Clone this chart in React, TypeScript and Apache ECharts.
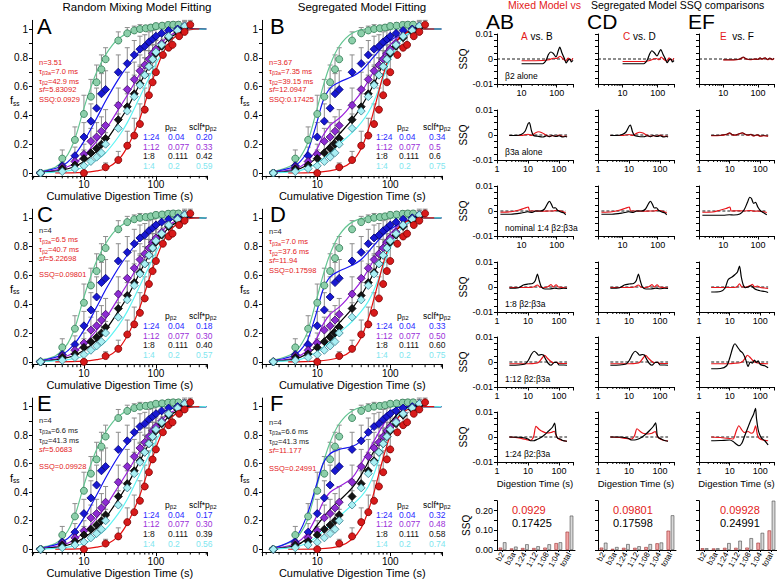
import { useEffect, useRef } from 'react';
import * as echarts from 'echarts';

const FONT = '"Liberation Sans", Arial, Helvetica, sans-serif';

type Obs = [number, number, number];
type Pt = [number, number];

// ---------- Measured steady-state fraction vs cumulative digestion time ----------
// [time (s), f_ss, SEM]
const OBS_B3A: Obs[] = [
  [2.5, 0.0, 0.01], [5, 0.10, 0.06], [7.5, 0.23, 0.09], [10, 0.41, 0.13], [12.5, 0.53, 0.12],
  [15, 0.63, 0.12], [17.5, 0.72, 0.1], [20, 0.79, 0.08], [30, 0.92, 0.06], [40, 0.97, 0.04],
  [50, 0.99, 0.03], [60, 1.0, 0.03], [72, 1.005, 0.02], [85, 1.01, 0.02], [100, 1.02, 0.02],
  [122, 1.023, 0.02], [148, 1.028, 0.02], [174, 1.03, 0.02], [206, 1.03, 0.02],
];
const OBS_1_24: Obs[] = [
  [2.5, 0.0, 0.01], [5, 0.05, 0.04], [7.5, 0.12, 0.06], [10, 0.25, 0.1], [12.5, 0.36, 0.12],
  [15, 0.45, 0.14], [17.5, 0.55, 0.14], [20, 0.58, 0.13], [30, 0.70, 0.12], [40, 0.76, 0.11],
  [50, 0.82, 0.1], [60, 0.86, 0.09], [70, 0.88, 0.08], [80, 0.91, 0.07], [90, 0.93, 0.06],
  [100, 0.95, 0.05], [120, 0.97, 0.04], [150, 0.99, 0.04], [200, 1.0, 0.03], [250, 1.02, 0.03],
];
const OBS_1_12: Obs[] = [
  [2.5, 0.0, 0.01], [5, 0.04, 0.03], [7.5, 0.08, 0.05], [10, 0.13, 0.07], [12.5, 0.22, 0.09],
  [15, 0.25, 0.1], [17.5, 0.29, 0.1], [20, 0.33, 0.11], [30, 0.47, 0.12], [40, 0.58, 0.12],
  [50, 0.65, 0.12], [60, 0.71, 0.11], [70, 0.75, 0.1], [80, 0.79, 0.1], [90, 0.83, 0.09],
  [100, 0.86, 0.08], [120, 0.9, 0.07], [150, 0.95, 0.05], [200, 0.99, 0.04], [250, 1.01, 0.03],
];
const OBS_1_8: Obs[] = [
  [2.5, 0.0, 0.01], [5, 0.03, 0.03], [7.5, 0.055, 0.04], [10, 0.10, 0.06], [12.5, 0.14, 0.08],
  [15, 0.17, 0.09], [17.5, 0.20, 0.1], [20, 0.24, 0.1], [30, 0.37, 0.12], [40, 0.46, 0.13],
  [50, 0.55, 0.13], [60, 0.62, 0.13], [70, 0.68, 0.12], [80, 0.74, 0.11], [90, 0.79, 0.1],
  [100, 0.83, 0.09], [120, 0.88, 0.08], [150, 0.94, 0.06], [200, 0.98, 0.05], [250, 1.01, 0.04],
];
const OBS_1_4: Obs[] = [
  [2.5, 0.0, 0.01], [5, 0.01, 0.02], [7.5, 0.03, 0.03], [10, 0.05, 0.04], [12.5, 0.08, 0.05],
  [15, 0.11, 0.06], [17.5, 0.14, 0.07], [20, 0.20, 0.08], [30, 0.31, 0.1], [40, 0.43, 0.12],
  [50, 0.53, 0.13], [60, 0.61, 0.13], [70, 0.68, 0.12], [80, 0.74, 0.11], [90, 0.79, 0.1],
  [100, 0.84, 0.09], [120, 0.89, 0.08], [150, 0.95, 0.06], [200, 0.99, 0.05], [250, 1.02, 0.04],
];
const OBS_B2: Obs[] = [
  [10, 0.0, 0.01], [20, 0.04, 0.03], [30, 0.09, 0.06], [40, 0.19, 0.1], [50, 0.26, 0.12],
  [60, 0.34, 0.14], [70, 0.44, 0.15], [80, 0.54, 0.15], [90, 0.63, 0.14], [100, 0.70, 0.13],
  [125, 0.82, 0.11], [150, 0.87, 0.09], [170, 0.89, 0.07], [210, 0.95, 0.05], [250, 0.98, 0.04],
  [300, 1.03, 0.03],
];

// ---------- Model fits ----------
// random mixing model (A, C, E)
const MIX_B3A: Pt[] = [[2.2, 0.01], [3, 0.02], [4, 0.04], [5, 0.08], [6, 0.13], [7, 0.2], [8, 0.28], [10, 0.45], [12, 0.57], [15, 0.7], [20, 0.82], [25, 0.89], [30, 0.93], [40, 0.97], [60, 0.99], [100, 1.0], [500, 1.0]];
const MIX_1_24: Pt[] = [[2.2, 0.005], [3, 0.015], [5, 0.05], [7, 0.11], [10, 0.22], [15, 0.38], [20, 0.5], [30, 0.65], [40, 0.74], [60, 0.85], [80, 0.91], [100, 0.94], [150, 0.98], [200, 0.995], [500, 1.0]];
const MIX_1_12: Pt[] = [[2.2, 0.003], [3, 0.01], [5, 0.03], [7, 0.06], [10, 0.12], [15, 0.22], [20, 0.3], [30, 0.44], [40, 0.54], [60, 0.69], [80, 0.79], [100, 0.86], [150, 0.95], [200, 0.98], [300, 1.0], [500, 1.0]];
const MIX_1_8: Pt[] = [[2.2, 0.002], [3, 0.006], [5, 0.02], [7, 0.04], [10, 0.08], [15, 0.15], [20, 0.22], [30, 0.35], [40, 0.45], [60, 0.62], [80, 0.74], [100, 0.82], [150, 0.93], [200, 0.97], [300, 1.0], [500, 1.0]];
const MIX_1_4: Pt[] = [[2.2, 0.0], [5, 0.01], [7, 0.02], [10, 0.04], [15, 0.09], [20, 0.14], [30, 0.25], [40, 0.35], [60, 0.53], [80, 0.66], [100, 0.76], [150, 0.9], [200, 0.96], [300, 0.995], [500, 1.0]];
const MIX_B2: Pt[] = [[4, 0.0], [10, 0.005], [15, 0.015], [20, 0.03], [30, 0.09], [40, 0.18], [50, 0.28], [60, 0.38], [70, 0.48], [80, 0.57], [100, 0.71], [120, 0.81], [150, 0.9], [200, 0.96], [250, 0.985], [300, 0.995], [400, 1.0]];

// segregated model (B, D)
const SEG_B3A: Pt[] = [[2.2, 0.01], [3, 0.02], [5, 0.07], [7, 0.18], [8, 0.27], [10, 0.45], [12, 0.6], [15, 0.75], [20, 0.88], [30, 0.97], [50, 1.0], [500, 1.0]];
const SEG_1_24: Pt[] = [[2.2, 0.005], [3, 0.015], [5, 0.05], [7, 0.13], [8, 0.2], [10, 0.36], [12, 0.5], [15, 0.59], [20, 0.63], [30, 0.67], [40, 0.71], [60, 0.81], [80, 0.88], [100, 0.92], [150, 0.97], [200, 0.99], [300, 1.0], [500, 1.0]];
const SEG_1_12: Pt[] = [[2.2, 0.003], [3, 0.01], [5, 0.03], [7, 0.07], [10, 0.17], [12, 0.26], [15, 0.33], [20, 0.38], [25, 0.43], [30, 0.48], [40, 0.56], [60, 0.71], [80, 0.82], [100, 0.89], [150, 0.97], [200, 0.99], [300, 1.0], [500, 1.0]];
const SEG_1_8: Pt[] = [[2.2, 0.002], [3, 0.006], [5, 0.02], [7, 0.05], [10, 0.11], [15, 0.2], [20, 0.27], [30, 0.37], [40, 0.46], [60, 0.62], [80, 0.76], [100, 0.86], [150, 0.96], [200, 0.99], [300, 1.0], [500, 1.0]];
const SEG_1_4: Pt[] = [[2.2, 0.001], [5, 0.01], [7, 0.03], [10, 0.07], [15, 0.14], [20, 0.2], [30, 0.28], [40, 0.35], [50, 0.42], [60, 0.5], [80, 0.66], [100, 0.79], [150, 0.94], [200, 0.98], [300, 1.0], [500, 1.0]];
const SEG_B2: Pt[] = [[4, 0.0], [10, 0.005], [20, 0.03], [30, 0.08], [40, 0.17], [50, 0.3], [60, 0.44], [70, 0.57], [80, 0.68], [100, 0.83], [120, 0.91], [150, 0.96], [200, 0.99], [300, 1.0], [400, 1.0]];

// segregated model with shared n / tau (F)
const SEGF_B3A: Pt[] = [[2.2, 0.01], [3, 0.02], [5, 0.07], [7, 0.18], [8, 0.27], [10, 0.45], [12, 0.6], [15, 0.75], [20, 0.88], [30, 0.97], [50, 1.0], [500, 1.0]];
const SEGF_1_24: Pt[] = [[2.2, 0.005], [3, 0.02], [5, 0.08], [7, 0.22], [10, 0.47], [12, 0.6], [15, 0.67], [20, 0.7], [30, 0.72], [40, 0.76], [60, 0.86], [80, 0.93], [100, 0.97], [150, 1.0], [500, 1.0]];
const SEGF_1_12: Pt[] = [[2.2, 0.003], [3, 0.01], [5, 0.04], [7, 0.1], [10, 0.24], [12, 0.33], [15, 0.4], [20, 0.44], [30, 0.5], [40, 0.6], [60, 0.76], [80, 0.87], [100, 0.94], [150, 0.99], [300, 1.0], [500, 1.0]];
const SEGF_1_8: Pt[] = [[2.2, 0.002], [3, 0.006], [5, 0.025], [7, 0.07], [10, 0.17], [15, 0.28], [20, 0.34], [30, 0.43], [40, 0.52], [60, 0.69], [80, 0.8], [100, 0.89], [150, 0.98], [200, 1.0], [500, 1.0]];
const SEGF_1_4: Pt[] = [[2.2, 0.001], [5, 0.015], [7, 0.04], [10, 0.09], [15, 0.17], [20, 0.23], [30, 0.31], [40, 0.37], [50, 0.44], [60, 0.53], [80, 0.72], [100, 0.85], [150, 0.97], [200, 0.995], [500, 1.0]];
const SEGF_B2: Pt[] = [[4, 0.0], [10, 0.003], [20, 0.02], [30, 0.07], [40, 0.15], [50, 0.27], [60, 0.4], [70, 0.53], [80, 0.64], [100, 0.8], [120, 0.9], [150, 0.96], [200, 0.99], [300, 1.0], [400, 1.0]];

// ---------- Legend tables ----------
const MIX_LABELS = ['1:24', '1:12', '1:8', '1:4'];
const P_B2 = ['0.04', '0.077', '0.111', '0.2'];
const SCLF_A = ['0.20', '0.33', '0.42', '0.59'];
const SCLF_B = ['0.34', '0.5', '0.6', '0.75'];
const SCLF_C = ['0.18', '0.30', '0.40', '0.57'];
const SCLF_D = ['0.33', '0.50', '0.60', '0.75'];
const SCLF_E = ['0.17', '0.30', '0.39', '0.56'];
const SCLF_F = ['0.32', '0.48', '0.58', '0.74'];

// fit parameters: [rich text, colour]
const INFO_A: [string, string][] = [['{t|n=3.51}', 'r'], ['{t|τ}{s|β3a}{t|=7.0 ms}', 'r'], ['{t|τ}{s|β2}{t|=42.9 ms}', 'r'], ['{i|sf}{t|=5.83092}', 'r'], ['{t|SSQ:0.0929}', 'r']];
const INFO_B: [string, string][] = [['{t|n=3.67}', 'r'], ['{t|τ}{s|β3a}{t|=7.35 ms}', 'r'], ['{t|τ}{s|β2}{t|=39.15 ms}', 'r'], ['{i|sf}{t|=12.0947}', 'r'], ['{t|SSQ:0.17425}', 'r']];
const INFO_C: [string, string][] = [['{t|n=4}', 'k'], ['{t|τ}{s|β3a}{t|=6.5 ms}', 'r'], ['{t|τ}{s|β2}{t|=40.7 ms}', 'r'], ['{i|sf}{t|=5.22698}', 'r'], ['{t|SSQ=0.09801}', 'r']];
const INFO_D: [string, string][] = [['{t|n=4}', 'k'], ['{t|τ}{s|β3a}{t|=7.0 ms}', 'r'], ['{t|τ}{s|β2}{t|=37.6 ms}', 'r'], ['{i|sf}{t|=11.94}', 'r'], ['{t|SSQ=0.17598}', 'r']];
const INFO_E: [string, string][] = [['{t|n=4}', 'k'], ['{t|τ}{s|β3a}{t|=6.6 ms}', 'k'], ['{t|τ}{s|β2}{t|=41.3 ms}', 'k'], ['{i|sf}{t|=5.0683}', 'r'], ['{t|SSQ=0.09928}', 'r']];
const INFO_F: [string, string][] = [['{t|n=4}', 'k'], ['{t|τ}{s|β3a}{t|=6.6 ms}', 'k'], ['{t|τ}{s|β2}{t|=41.3 ms}', 'k'], ['{i|sf}{t|=11.177}', 'r'], ['{t|SSQ=0.24991}', 'r']];

// ---------- Residual SSQ traces (red: mixed model, black: segregated model) ----------
const AB_R1_MIX: Pt[] = [[10, -0.0007], [40, -0.0006], [60, -0.0003], [80, 0.0003], [100, 0.0002], [125, 0.0011], [150, 0.0001], [180, -0.0008], [210, 0.0004], [250, -0.0006], [290, 0.0003]];
const AB_R1_SEG: Pt[] = [[10, -0.0019], [40, -0.0019], [50, -0.0005], [58, 0.0018], [68, 0.0028], [80, 0.0022], [95, 0.0008], [110, 0.0032], [122, 0.0048], [140, 0.0025], [165, 0.0002], [185, -0.0016], [210, -0.0005], [240, 0.0], [260, -0.0012], [290, -0.0005]];
const AB_R2_MIX: Pt[] = [[2.5, -0.0002], [6, -0.0002], [10, 0.0003], [13, -0.0002], [17, 0.0008], [22, 0.0013], [28, 0.0009], [35, 0.0002], [45, -0.0005], [60, -0.0003], [80, -0.0005], [100, 0.0], [130, -0.0006], [160, -0.0004], [180, -0.0006]];
const AB_R2_SEG: Pt[] = [[2.5, -0.0002], [4, -0.0002], [6, 0.0002], [8, 0.0015], [10, 0.0045], [11, 0.005], [13, 0.0015], [15, -0.0002], [20, -0.0005], [30, -0.0008], [40, -0.0003], [50, -0.0007], [60, -0.0002], [80, -0.0006], [100, -0.0003], [130, -0.0008], [160, -0.0006], [180, -0.0008]];
const AB_R3_MIX: Pt[] = [[2.5, -0.0005], [5, -0.0003], [8, 0.0003], [12, 0.0011], [15.5, 0.0016], [17, 0.0], [25, 0.0], [40, -0.0001], [60, 0.0], [80, 0.0], [100, 0.0003], [130, 0.0], [160, -0.0004], [180, -0.0008]];
const AB_R3_SEG: Pt[] = [[2.5, -0.0013], [5, -0.0013], [10, -0.0008], [15, -0.0003], [20, -0.0006], [25, 0.0], [35, 0.0], [45, 0.0008], [55, 0.003], [62, 0.0039], [70, 0.0028], [80, 0.0012], [92, 0.0013], [105, 0.0003], [130, -0.0004], [160, -0.0008], [180, -0.0015]];
const AB_R4_MIX: Pt[] = [[2.5, -0.0002], [8, -0.0002], [15, 0.0], [20, 0.0008], [24, 0.0], [30, -0.0003], [45, 0.0002], [55, 0.001], [65, 0.0], [80, 0.0009], [95, 0.0], [130, -0.0002], [180, -0.0004]];
const AB_R4_SEG: Pt[] = [[2.5, -0.0005], [5, -0.0003], [7, 0.0008], [10, 0.0012], [14, 0.0014], [17, 0.0025], [20, 0.0052], [23, 0.0025], [27, 0.0], [35, -0.0008], [50, -0.0008], [70, -0.0005], [100, -0.0007], [140, -0.0005], [180, -0.0006]];
const AB_R5_MIX: Pt[] = [[2.5, -0.0007], [10, -0.0007], [18, -0.0005], [22, -0.0001], [28, 0.0015], [34, 0.0027], [42, 0.0015], [50, 0.0006], [65, -0.0003], [80, -0.0001], [100, -0.0006], [180, -0.0006]];
const AB_R5_SEG: Pt[] = [[2.5, -0.0013], [5, -0.0012], [8, -0.0008], [10, 0.0005], [13, 0.0032], [16, 0.0043], [19, 0.0035], [22, 0.0027], [27, 0.003], [31, 0.0028], [38, 0.0008], [45, -0.0006], [55, -0.0013], [70, -0.0002], [85, -0.0002], [100, -0.0012], [140, -0.0012], [180, -0.0013]];
const AB_R6_MIX: Pt[] = [[2.5, 0.0], [5, -0.0004], [8, -0.0009], [12, -0.0013], [15, 0.0], [18, 0.0043], [23, 0.003], [28, 0.0023], [40, 0.0016], [55, 0.0018], [70, 0.0023], [80, 0.0006], [90, -0.0004], [120, -0.0013], [180, -0.0017]];
const AB_R6_SEG: Pt[] = [[2.5, 0.0], [5, -0.0001], [8, -0.0004], [10, -0.0008], [12, -0.0015], [15, -0.0015], [20, -0.0009], [25, -0.0003], [35, 0.001], [45, 0.0023], [60, 0.0038], [72, 0.0056], [80, 0.001], [90, -0.0005], [110, -0.0008], [130, -0.0014], [180, -0.0017]];

const CD_R1_MIX: Pt[] = [[10, -0.001], [40, -0.001], [60, -0.0006], [75, 0.0], [90, 0.0002], [110, -0.0003], [125, 0.0008], [150, -0.0002], [180, -0.0008], [210, 0.0005], [250, -0.0006], [290, 0.0003]];
const CD_R1_SEG: Pt[] = [[10, -0.0019], [40, -0.0019], [50, -0.0005], [58, 0.0018], [68, 0.0033], [80, 0.0025], [95, 0.0012], [110, 0.0028], [122, 0.0038], [140, 0.002], [165, 0.0], [185, -0.0015], [210, -0.0004], [240, 0.0], [260, -0.0012], [290, -0.0006]];
const CD_R2_MIX: Pt[] = [[2.5, -0.0002], [6, -0.0002], [10, 0.0002], [13, -0.0002], [17, 0.0006], [22, 0.0011], [28, 0.0008], [35, 0.0001], [45, -0.0005], [60, -0.0003], [80, -0.0005], [100, 0.0], [130, -0.0006], [160, -0.0004], [180, -0.0006]];
const CD_R2_SEG: Pt[] = [[2.5, -0.0002], [4, -0.0002], [6, 0.0002], [8, 0.0012], [10, 0.0035], [11, 0.004], [13, 0.0012], [15, -0.0002], [20, -0.0006], [30, -0.0007], [40, -0.0003], [50, -0.0007], [60, -0.0002], [80, -0.0006], [100, -0.0003], [130, -0.0008], [160, -0.0006], [180, -0.0008]];
const CD_R6_MIX: Pt[] = [[2.5, 0.0], [5, -0.0002], [8, -0.0006], [12, -0.0008], [15, 0.0005], [18, 0.0033], [23, 0.0022], [28, 0.0015], [40, 0.0012], [55, 0.0015], [70, 0.0022], [80, 0.0004], [90, -0.0004], [120, -0.0012], [180, -0.0016]];
const CD_R6_SEG: Pt[] = [[2.5, 0.0], [5, 0.0], [8, -0.0003], [10, -0.0007], [12, -0.0012], [15, -0.0012], [20, -0.0008], [25, -0.0002], [35, 0.0012], [45, 0.0025], [60, 0.0042], [72, 0.0057], [80, 0.001], [90, -0.0003], [110, -0.0008], [130, -0.0013], [180, -0.0017]];

const EF_R1_MIX: Pt[] = [[10, -0.0004], [20, -0.0004], [30, -0.0001], [38, 0.0006], [45, 0.0], [60, -0.0003], [80, -0.0001], [100, -0.0002], [115, 0.0004], [130, -0.0001], [160, 0.0004], [190, -0.0003], [220, 0.0003], [260, -0.0003], [290, 0.0002]];
const EF_R1_SEG: Pt[] = [[10, -0.0003], [20, -0.0003], [30, 0.0], [38, 0.0008], [45, 0.0001], [60, -0.0002], [80, 0.0], [100, -0.0001], [115, 0.0005], [130, 0.0], [160, 0.0005], [190, -0.0002], [220, 0.0004], [260, -0.0002], [290, 0.0003]];
const EF_R2_MIX: Pt[] = [[2.5, -0.0003], [5, -0.0002], [8, 0.0002], [10, 0.0007], [12, 0.0001], [15, -0.0001], [20, 0.0004], [26, 0.0008], [32, 0.0002], [40, -0.0001], [50, 0.0002], [60, -0.0004], [80, 0.0], [100, -0.0005], [130, -0.0003], [180, -0.0005]];
const EF_R2_SEG: Pt[] = [[2.5, -0.0002], [5, -0.0001], [8, 0.0003], [10, 0.0009], [12, 0.0002], [15, 0.0], [20, 0.0005], [26, 0.0009], [32, 0.0003], [40, 0.0], [50, 0.0003], [60, -0.0003], [80, 0.0001], [100, -0.0004], [130, -0.0002], [180, -0.0004]];
const EF_R3_MIX: Pt[] = [[2.5, -0.0005], [5, -0.0004], [8, 0.0003], [12, 0.001], [15.5, 0.0016], [17, 0.0], [25, 0.0001], [40, 0.0], [60, 0.0002], [80, -0.0001], [100, 0.0], [130, -0.0002], [160, -0.0004], [180, -0.0006]];
const EF_R3_SEG: Pt[] = [[2.5, -0.0017], [5, -0.0017], [10, -0.0017], [15, -0.0015], [20, -0.0016], [30, -0.0012], [40, 0.0005], [50, 0.0035], [58, 0.0055], [65, 0.005], [75, 0.003], [85, 0.0035], [100, 0.0015], [120, 0.0], [150, -0.0008], [180, -0.0015]];
const EF_R4_MIX: Pt[] = [[2.5, -0.0002], [10, -0.0002], [17, 0.0], [21, 0.0013], [25, 0.0], [35, 0.0], [48, 0.0006], [55, 0.0011], [65, 0.0], [80, 0.0004], [100, -0.0002], [140, -0.0004], [180, -0.0006]];
const EF_R4_SEG: Pt[] = [[2.5, -0.002], [5, -0.0018], [7, -0.0005], [9, 0.003], [12, 0.004], [15, 0.005], [18, 0.006], [21, 0.0084], [24, 0.004], [28, 0.0007], [33, -0.0003], [40, 0.0], [50, 0.0005], [65, -0.0007], [80, -0.0012], [100, -0.0015], [140, -0.0018], [180, -0.0022]];
const EF_R5_MIX: Pt[] = [[2.5, -0.0007], [10, -0.0007], [15, -0.0005], [20, -0.0004], [25, 0.0], [32, 0.0015], [38, 0.0027], [45, 0.002], [55, 0.0008], [70, -0.0002], [100, -0.0006], [180, -0.0007]];
const EF_R5_SEG: Pt[] = [[2.5, -0.0027], [5, -0.0026], [8, -0.0015], [10, 0.0015], [13, 0.0062], [15, 0.0073], [18, 0.006], [22, 0.0045], [27, 0.0035], [33, 0.0012], [40, -0.0018], [47, 0.0], [55, -0.0005], [65, 0.0008], [75, -0.0002], [85, 0.0005], [100, -0.001], [140, -0.0015], [180, -0.0023]];
const EF_R6_MIX: Pt[] = [[2.5, 0.0], [5, -0.0002], [10, -0.0006], [13, -0.0008], [16, 0.002], [20, 0.0045], [25, 0.0028], [30, 0.0018], [40, 0.0022], [50, 0.0015], [60, 0.002], [70, 0.0045], [80, 0.001], [90, -0.0004], [120, -0.0012], [180, -0.0015]];
const EF_R6_SEG: Pt[] = [[2.5, -0.0015], [5, -0.0014], [10, -0.0012], [13, -0.0018], [17, -0.003], [20, -0.0035], [25, -0.0025], [30, 0.0], [40, 0.004], [50, 0.007], [60, 0.009], [70, 0.0115], [75, 0.0075], [85, 0.003], [95, 0.001], [110, -0.0005], [140, -0.0015], [180, -0.0032]];

// ---------- SSQ totals per data set ----------
const BAR_CATS = ['b2', 'b3a', '1:24', '1:12', '1:08', '1:04', 'total'];
const SSQ_MIX_AB = [0.012, 0.008, 0.010, 0.010, 0.012, 0.035, 0.0929];
const SSQ_SEG_AB = [0.039, 0.017, 0.029, 0.019, 0.029, 0.039, 0.17425];
const SSQ_MIX_CD = [0.012, 0.006, 0.011, 0.011, 0.015, 0.034, 0.09801];
const SSQ_SEG_CD = [0.037, 0.015, 0.030, 0.019, 0.030, 0.038, 0.17598];
const SSQ_MIX_EF = [0.009, 0.008, 0.011, 0.011, 0.012, 0.037, 0.09928];
const SSQ_SEG_EF = [0.009, 0.009, 0.035, 0.047, 0.060, 0.087, 0.24991];

// axis ticks
const LOG_MINOR_TICKS = [2, 3, 4, 5, 6, 7, 8, 9, 20, 30, 40, 50, 60, 70, 80, 90, 200, 300, 400, 500];
const FSS_LABELS = [0, 0.2, 0.4, 0.6, 0.8, 1];
const FSS_TICKS = [0, 0.1, 0.2, 0.3, 0.4, 0.5, 0.6, 0.7, 0.8, 0.9, 1];

// ---------- styling ----------
const RED = '#e31a1a';
const SERIES_STYLE = [
  { line: '#63c592', fill: '#8ccfaa', edge: '#2e7a52', symbol: 'circle', size: 7 },
  { line: '#1414f0', fill: '#1818d2', edge: '#000070', symbol: 'diamond', size: 8 },
  { line: '#9a1fdc', fill: '#8d2cd2', edge: '#3d0a66', symbol: 'diamond', size: 8 },
  { line: '#000000', fill: '#141414', edge: '#000000', symbol: 'diamond', size: 8 },
  { line: '#5ff4f4', fill: '#a9eff3', edge: '#3a7d8e', symbol: 'diamond', size: 8 },
  { line: '#e41010', fill: '#d81a1a', edge: '#7a0000', symbol: 'circle', size: 7 },
];
const LEG_COLORS = ['#2a2aff', '#9b30d9', '#111111', '#7fe6ef'];
const OBS_ALL = [OBS_B3A, OBS_1_24, OBS_1_12, OBS_1_8, OBS_1_4, OBS_B2];
const FITS_MIX = [MIX_B3A, MIX_1_24, MIX_1_12, MIX_1_8, MIX_1_4, MIX_B2];
const FITS_SEG = [SEG_B3A, SEG_1_24, SEG_1_12, SEG_1_8, SEG_1_4, SEG_B2];
const FITS_SEGF = [SEGF_B3A, SEGF_1_24, SEGF_1_12, SEGF_1_8, SEGF_1_4, SEGF_B2];

const ROW_Y0 = [173, 361.8, 550.7];
const LEFT_COL = { left: 32, decade: 72, xmin: 1.9, leg: [111, 136, 164, 133, 157], letterDx: 5 };
const RIGHT_COL = { left: 262, decade: 73, xmin: 1.75, leg: [114, 137, 167, 135, 161], letterDx: 8 };
const X_MAX = 520;

const MAIN_PANELS = [
  { letter: 'A', col: LEFT_COL, row: 0, fits: FITS_MIX, info: INFO_A, dy: [33, 42, 52, 60, 70], sclf: SCLF_A },
  { letter: 'B', col: RIGHT_COL, row: 0, fits: FITS_SEG, info: INFO_B, dy: [33, 42, 52, 60, 70], sclf: SCLF_B },
  { letter: 'C', col: LEFT_COL, row: 1, fits: FITS_MIX, info: INFO_C, dy: [13, 22, 32, 41, 57], sclf: SCLF_C },
  { letter: 'D', col: RIGHT_COL, row: 1, fits: FITS_SEG, info: INFO_D, dy: [14, 24, 34, 43, 53], sclf: SCLF_D },
  { letter: 'E', col: LEFT_COL, row: 2, fits: FITS_MIX, info: INFO_E, dy: [14, 24, 34, 43, 60], sclf: SCLF_E },
  { letter: 'F', col: RIGHT_COL, row: 2, fits: FITS_SEGF, info: INFO_F, dy: [16, 25, 35, 44, 62], sclf: SCLF_F },
];

const RES_ROW_TOP = [34, 110, 186, 262, 337, 412];
const RES_XRANGE: [number, number][] = [[2, 290], [1, 280], [2, 290], [1, 280], [1, 280], [1, 280]];
const RES_NOTES = ['β2 alone', 'β3a alone', 'nominal 1:4 β2:β3a', '1:8 β2:β3a', '1:12 β2:β3a', '1:24 β2:β3a'];
const RES_COLS = [
  { left: 497, tag: 'AB', first: 'A', second: ' vs. B', vsX: 521, ssqMix: SSQ_MIX_AB, ssqSeg: SSQ_SEG_AB, totalMix: '0.0929', totalSeg: '0.17425', totX: 512,
    rows: [[AB_R1_MIX, AB_R1_SEG], [AB_R2_MIX, AB_R2_SEG], [AB_R3_MIX, AB_R3_SEG], [AB_R4_MIX, AB_R4_SEG], [AB_R5_MIX, AB_R5_SEG], [AB_R6_MIX, AB_R6_SEG]] },
  { left: 598, tag: 'CD', first: 'C', second: ' vs. D', vsX: 623, ssqMix: SSQ_MIX_CD, ssqSeg: SSQ_SEG_CD, totalMix: '0.09801', totalSeg: '0.17598', totX: 613,
    rows: [[CD_R1_MIX, CD_R1_SEG], [CD_R2_MIX, CD_R2_SEG], [AB_R3_MIX, AB_R3_SEG], [AB_R4_MIX, AB_R4_SEG], [AB_R5_MIX, AB_R5_SEG], [CD_R6_MIX, CD_R6_SEG]] },
  { left: 699, tag: 'EF', first: 'E', second: '  vs. F', vsX: 720, ssqMix: SSQ_MIX_EF, ssqSeg: SSQ_SEG_EF, totalMix: '0.09928', totalSeg: '0.24991', totX: 720,
    rows: [[EF_R1_MIX, EF_R1_SEG], [EF_R2_MIX, EF_R2_SEG], [EF_R3_MIX, EF_R3_SEG], [EF_R4_MIX, EF_R4_SEG], [EF_R5_MIX, EF_R5_SEG], [EF_R6_MIX, EF_R6_SEG]] },
];
const RES_WIDTH = 76;

// ---------- helpers ----------
const near = (a: number, b: number) => Math.abs(a - b) < 1e-9;
function decadeLabel(v: number) {
  const l = Math.log10(v);
  return Math.abs(l - Math.round(l)) < 1e-6 ? String(Math.round(v)) : '';
}

function textEl(x: number, y: number, text: string, fontSize: number, fill: string, align = 'left', extra: any = {}) {
  return {
    type: 'text', x, y, silent: true, z: 50,
    style: {
      text, fill, fontSize, fontFamily: FONT,
      align, verticalAlign: 'middle', textAlign: align, textVerticalAlign: 'middle',
      ...extra,
    },
  };
}

function richStyles(fill: string, size: number) {
  return {
    t: { fontSize: size, lineHeight: size + 1, fill, fontFamily: FONT },
    i: { fontSize: size, lineHeight: size + 1, fill, fontFamily: FONT, fontStyle: 'italic' },
    s: { fontSize: size * 0.72, lineHeight: size * 0.72, fill, fontFamily: FONT, verticalAlign: 'bottom' },
  };
}

function richEl(x: number, y: number, text: string, size: number, fill: string, align = 'left') {
  return textEl(x, y, text, size, fill, align, { rich: richStyles(fill, size) });
}

function minorTickSeries(xi: number, xmin: number, xmax: number, yBase: number, len: number) {
  const ticks = LOG_MINOR_TICKS.filter((v) => v > xmin * 1.0001 && v < xmax * 0.9999);
  return {
    type: 'custom', xAxisIndex: xi, yAxisIndex: xi, silent: true, z: 5, clip: false,
    data: ticks.map((v) => [v, yBase]),
    renderItem: (_p: any, api: any) => {
      const p = api.coord([api.value(0), api.value(1)]);
      return { type: 'line', shape: { x1: p[0], y1: p[1], x2: p[0], y2: p[1] + len }, style: { stroke: '#000', lineWidth: 1 } };
    },
  };
}

function buildOption() {
  const grid: any[] = [];
  const xAxis: any[] = [];
  const yAxis: any[] = [];
  const series: any[] = [];
  const graphic: any[] = [];
  const axisLine = { show: true, onZero: false, lineStyle: { color: '#000', width: 1 } };
  const labelBase = { color: '#000', fontFamily: FONT };

  // ---- fitting panels ----
  MAIN_PANELS.forEach((pnl) => {
    const gi = grid.length;
    const col = pnl.col;
    const y0 = ROW_Y0[pnl.row];
    const y1 = y0 - 144;
    const width = col.decade * Math.log10(X_MAX / col.xmin);
    grid.push({ left: col.left, top: y0 - 1.06 * 144, width, height: 1.08 * 144 });
    xAxis.push({
      type: 'log', logBase: 10, gridIndex: gi, min: col.xmin, max: X_MAX,
      axisLine, splitLine: { show: false },
      axisTick: { show: true, length: 4, lineStyle: { color: '#000' } },
      axisLabel: { ...labelBase, fontSize: 10, margin: 4, formatter: decadeLabel },
      name: 'Cumulative Digestion Time (s)', nameLocation: 'middle', nameGap: 13.5,
      nameTextStyle: { ...labelBase, fontSize: 11 },
    });
    yAxis.push({
      type: 'value', gridIndex: gi, min: -0.02, max: 1.06,
      axisLine, splitLine: { show: false },
      axisTick: { show: true, length: 3, customValues: FSS_TICKS, lineStyle: { color: '#000' } },
      axisLabel: {
        ...labelBase, fontSize: 10, margin: 4, customValues: FSS_LABELS,
        formatter: (v: number) => (near(v, 0) ? '0' : near(v, 1) ? '1' : v.toFixed(1)),
      },
    });
    // error bars
    const errData: number[][] = [];
    OBS_ALL.forEach((obs) => obs.forEach((o) => errData.push([o[0], o[1], o[2]])));
    series.push({
      type: 'custom', xAxisIndex: gi, yAxisIndex: gi, silent: true, z: 1,
      data: errData,
      renderItem: (_p: any, api: any) => {
        const t = api.value(0);
        const y = api.value(1);
        const e = api.value(2);
        const a = api.coord([t, y]);
        const b = api.coord([t, y + e]);
        return {
          type: 'group',
          children: [
            { type: 'line', shape: { x1: a[0], y1: a[1], x2: b[0], y2: b[1] }, style: { stroke: '#8c8c8c', lineWidth: 1 } },
            { type: 'line', shape: { x1: b[0] - 2.5, y1: b[1], x2: b[0] + 2.5, y2: b[1] }, style: { stroke: '#8c8c8c', lineWidth: 1 } },
          ],
        };
      },
    });
    pnl.fits.forEach((fit, k) => {
      series.push({
        type: 'line', xAxisIndex: gi, yAxisIndex: gi, data: fit, smooth: 0.35, showSymbol: false, silent: true, z: 2,
        lineStyle: { color: SERIES_STYLE[k].line, width: 1.2 },
      });
    });
    OBS_ALL.forEach((obs, k) => {
      const st = SERIES_STYLE[k];
      series.push({
        type: 'scatter', xAxisIndex: gi, yAxisIndex: gi, silent: true, z: 3,
        data: obs.map((o) => [o[0], o[1]]),
        symbol: st.symbol, symbolSize: st.size,
        itemStyle: { color: st.fill, borderColor: st.edge, borderWidth: 0.8, opacity: 1 },
      });
    });
    series.push(minorTickSeries(gi, col.xmin, X_MAX, -0.02, 2.5));

    // panel letter, y label, fit parameters, legend table
    graphic.push(textEl(col.left + col.letterDx, y1 - 3, pnl.letter, 22, '#000'));
    graphic.push(textEl(col.left - 22, y0 - 73, '{f|f}{s|ss}', 11, '#000', 'left', {
      rich: { f: { fontSize: 11, lineHeight: 13, fontFamily: FONT, fill: '#000' }, s: { fontSize: 6.5, lineHeight: 6.5, verticalAlign: 'bottom', fontFamily: FONT, fill: '#000' } },
    }));
    pnl.info.forEach((ln, k) => {
      const fill = ln[1] === 'r' ? RED : '#222';
      graphic.push(richEl(col.left + 7, y1 + pnl.dy[k], ln[0], 7.5, fill));
    });
    const lg = col.leg;
    graphic.push(richEl(col.left + lg[3], y1 + 98, '{t|p}{s|β2}', 8.5, '#000'));
    graphic.push(richEl(col.left + lg[4], y1 + 98, '{t|sclf*p}{s|β2}', 8.5, '#000'));
    MIX_LABELS.forEach((lab, r) => {
      const yy = y1 + 108 + r * 9.7;
      graphic.push(textEl(col.left + lg[0], yy, lab, 8.5, LEG_COLORS[r]));
      graphic.push(textEl(col.left + lg[1], yy, P_B2[r], 8.5, LEG_COLORS[r]));
      graphic.push(textEl(col.left + lg[2], yy, pnl.sclf[r], 8.5, LEG_COLORS[r]));
    });
  });

  graphic.push(textEl(137, 6.5, 'Random Mixing Model Fitting', 11.5, '#000', 'center'));
  graphic.push(textEl(362, 6.5, 'Segregated Model Fitting', 11.5, '#000', 'center'));
  graphic.push(textEl(508, 5, 'Mixed Model vs', 10.5, RED));
  graphic.push(textEl(591, 5, 'Segregated Model SSQ comparisons', 10.5, '#000'));

  // ---- residual panels ----
  RES_COLS.forEach((rc, ci) => {
    graphic.push(textEl(rc.left - 11, 21, rc.tag, 21, '#000'));
    graphic.push(textEl(rc.vsX, 36, `{r|${rc.first}}{k|${rc.second}}`, 10, '#000', 'left', {
      rich: { r: { fontSize: 10, fill: RED, fontFamily: FONT }, k: { fontSize: 10, fill: '#000', fontFamily: FONT } },
    }));
    RES_ROW_TOP.forEach((top, ri) => {
      const gi = grid.length;
      const [xmin, xmax] = RES_XRANGE[ri];
      const last = ri === RES_ROW_TOP.length - 1;
      grid.push({ left: rc.left, top, width: RES_WIDTH, height: 50 });
      xAxis.push({
        type: 'log', logBase: 10, gridIndex: gi, min: xmin, max: xmax,
        axisLine, splitLine: { show: false },
        axisTick: { show: true, length: 3.5, lineStyle: { color: '#000' } },
        axisLabel: { ...labelBase, fontSize: 9, margin: 4, formatter: decadeLabel },
        name: last ? 'Digestion Time (s)' : '', nameLocation: 'middle', nameGap: 16,
        nameTextStyle: { ...labelBase, fontSize: 9.5 },
      });
      yAxis.push({
        type: 'value', gridIndex: gi, min: -0.01, max: 0.01, interval: 0.0025,
        axisLine, splitLine: { show: false },
        axisTick: { show: true, length: 3, lineStyle: { color: '#000' } },
        axisLabel: {
          show: ci === 0, ...labelBase, fontSize: 9, margin: 4,
          formatter: (v: number) => (near(v, 0.01) ? '0.01' : near(v, 0) ? '0' : near(v, -0.01) ? '-0.01' : ''),
        },
        name: ci === 0 ? 'SSQ' : '', nameLocation: 'middle', nameGap: 22, nameRotate: 90,
        nameTextStyle: { ...labelBase, fontSize: 10 },
      });
      const [mix, seg] = rc.rows[ri];
      const zx0 = ri === 0 ? xmin : mix[0][0];
      const zx1 = ri === 0 ? xmax : mix[mix.length - 1][0];
      series.push({
        type: 'line', xAxisIndex: gi, yAxisIndex: gi, data: [[zx0, 0], [zx1, 0]], showSymbol: false, silent: true, z: 1,
        lineStyle: { color: '#000', width: 0.9, type: [3, 2] },
      });
      series.push({
        type: 'line', xAxisIndex: gi, yAxisIndex: gi, data: mix, smooth: 0.25, showSymbol: false, silent: true, z: 2, clip: false,
        lineStyle: { color: '#e8141a', width: 1.2 },
      });
      series.push({
        type: 'line', xAxisIndex: gi, yAxisIndex: gi, data: seg, smooth: 0.25, showSymbol: false, silent: true, z: 3, clip: false,
        lineStyle: { color: ci === 2 && ri < 2 ? '#6a0a0a' : '#000', width: 1.2 },
      });
      series.push(minorTickSeries(gi, xmin, xmax, -0.01, 2));
      if (ci === 0) graphic.push(textEl(505, top + 42, RES_NOTES[ri], 8.5, '#000'));
    });

    // ---- SSQ bar summary ----
    const gi = grid.length;
    grid.push({ left: rc.left, top: 500.7, width: 78, height: 49.3 });
    xAxis.push({
      type: 'category', gridIndex: gi, data: BAR_CATS, axisLine,
      axisTick: { show: true, alignWithLabel: true, length: 2, lineStyle: { color: '#000' } },
      axisLabel: { ...labelBase, fontSize: 8, rotate: 60, margin: 3, interval: 0 },
    });
    yAxis.push({
      type: 'value', gridIndex: gi, min: 0, max: 0.25, interval: 0.05,
      axisLine, splitLine: { show: false },
      axisTick: { show: true, length: 3, lineStyle: { color: '#000' } },
      axisLabel: {
        show: ci === 0, ...labelBase, fontSize: 9, margin: 4,
        formatter: (v: number) => (near(v, 0) || near(v, 0.1) || near(v, 0.2) ? v.toFixed(2) : ''),
      },
      name: ci === 0 ? 'SSQ' : '', nameLocation: 'middle', nameGap: 26, nameRotate: 90,
      nameTextStyle: { ...labelBase, fontSize: 10 },
    });
    series.push({
      type: 'bar', xAxisIndex: gi, yAxisIndex: gi, data: rc.ssqMix, barWidth: 3.5, barGap: '20%', silent: true,
      itemStyle: { color: '#f3a7a7', borderColor: '#9a2a2a', borderWidth: 0.6 },
    });
    series.push({
      type: 'bar', xAxisIndex: gi, yAxisIndex: gi, data: rc.ssqSeg, barWidth: 3.5, barGap: '20%', silent: true,
      itemStyle: { color: '#d9d9d9', borderColor: '#444', borderWidth: 0.6 },
    });
    graphic.push(textEl(rc.totX, 510, rc.totalMix, 11, RED));
    graphic.push(textEl(rc.totX, 523, rc.totalSeg, 11, '#000'));
  });

  return { animation: false, backgroundColor: '#fff', grid, xAxis, yAxis, series, graphic };
}

export default function App() {
  const ref = useRef<HTMLDivElement>(null);
  useEffect(() => {
    const chart = echarts.init(ref.current!, null, { renderer: 'svg' });
    chart.setOption(buildOption() as any);
    return () => chart.dispose();
  }, []);
  return <div ref={ref} style={{ position: 'fixed', left: 0, top: 0, width: 777, height: 579, background: '#fff' }} />;
}
